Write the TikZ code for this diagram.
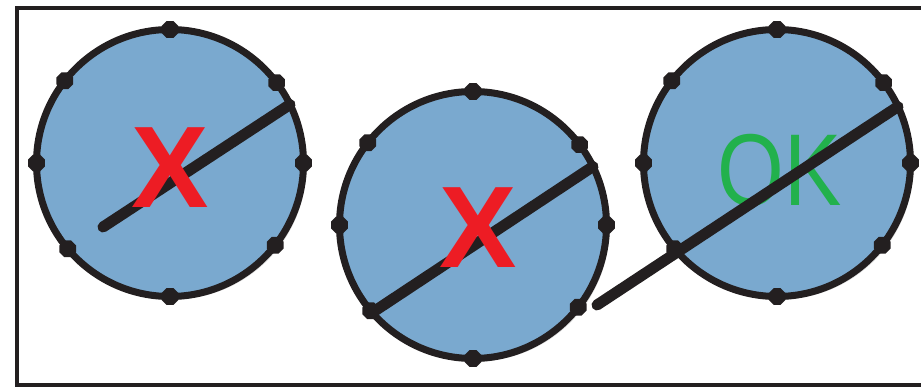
\documentclass[tikz,border=0pt]{standalone}
\usepackage{fontspec}
\newfontfamily\labelfont{Liberation Sans}
\usetikzlibrary{shapes.geometric,shadows}

\definecolor{discblue}{RGB}{122,169,207}
\definecolor{ink}{RGB}{35,31,32}
\definecolor{xred}{RGB}{237,28,36}
\definecolor{okgreen}{RGB}{34,177,76}

\begin{document}
\begin{tikzpicture}[x=1pt,y=-1pt,
  disc/.style={circle, minimum size=267pt, inner sep=0pt, outer sep=0pt,
    fill=discblue, draw=ink, line width=7pt,
    drop shadow={shadow xshift=3pt, shadow yshift=-3pt, opacity=.3}},
  lug/.style={regular polygon, regular polygon sides=8, minimum size=18pt,
    inner sep=0pt, fill=ink},
  rod/.style={draw=ink, line width=11pt, line cap=round},
  verdict/.style={inner sep=0pt, font=\labelfont\fontsize{116}{116}\selectfont}]
  \useasboundingbox (0,0) rectangle (921,390);
  \clip (0,0) rectangle (921,390);
  \draw[ink, line width=4pt] (16.5,8) rectangle (940,385);

  % the three discs
  \node[disc] (c1) at (170,163) {};
  \node[disc] (c2) at (473,225) {};
  \node[disc] (c3) at (777,163) {};

  % OK lies under the rod
  \node[verdict, text=okgreen] (ok) at (780,170) {\scalebox{0.74}[0.88]{OK}};

  % rods
  \coordinate (tip1) at (103,227);
  \coordinate (tip3) at (597,305);
  \draw[rod] (tip1) -- (c1.26);
  \draw[rod] (c2.221) -- (c2.26);
  \draw[rod] (tip3) -- (c3.25);

  % lugs round each disc
  \foreach \c in {c1,c2,c3}
    \foreach \a in {0,37,90,142,180,220,270,322}
      \node[lug] (\c-\a) at (\c.\a) {};

  \node[verdict, text=xred] (x1) at (170,168) {\bfseries X};
  \node[verdict, text=xred] (x2) at (478,228) {\bfseries X};
\end{tikzpicture}
\end{document}
